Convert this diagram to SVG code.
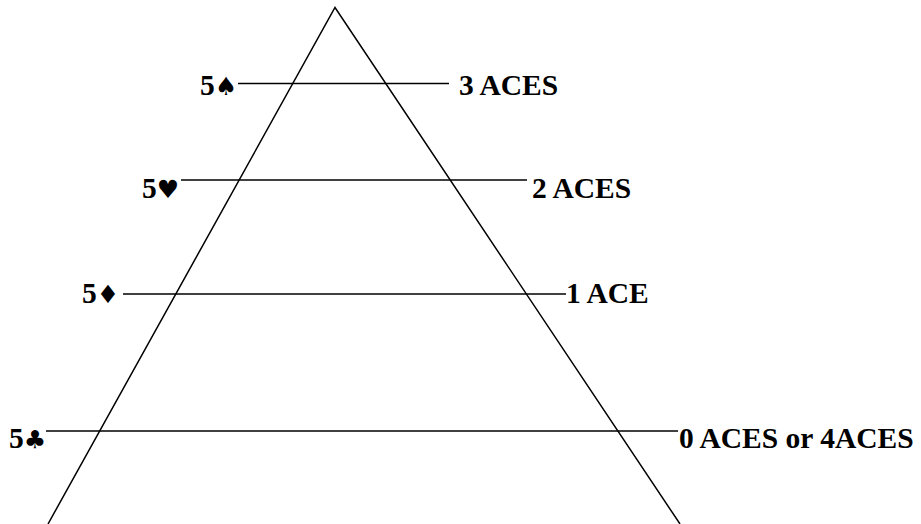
<svg xmlns="http://www.w3.org/2000/svg" width="921" height="524" viewBox="0 0 921 524">
<style>
.ln{stroke:#000;stroke-width:1.5;fill:none}
.t{font-family:"Liberation Serif","DejaVu Serif",serif;font-weight:bold;font-size:29.5px;fill:#000}
.s{font-family:"DejaVu Sans",sans-serif;font-size:25px}
</style>
<rect width="921" height="524" fill="#fff"/>
<g id="triangle">
<polyline class="ln" points="48,524 335,7.5 680,524"/>
</g>
<g id="connectors">
<line class="ln" x1="238" y1="83.5" x2="449" y2="83.5"/>
<line class="ln" x1="181" y1="180" x2="527" y2="180"/>
<line class="ln" x1="123" y1="294" x2="566" y2="294"/>
<line class="ln" x1="46" y1="431" x2="678" y2="431"/>
</g>
<g id="spade">
<text class="t" x="200" y="95">5<tspan class="s">♠</tspan></text>
<text class="t" x="459" y="95">3 ACES</text>
</g>
<g id="heart">
<text class="t" x="142" y="198">5<tspan class="s">♥</tspan></text>
<text class="t" x="532" y="198">2 ACES</text>
</g>
<g id="diamond">
<text class="t" x="82" y="303">5<tspan class="s">♦</tspan></text>
<text class="t" x="566" y="303">1 ACE</text>
</g>
<g id="club">
<text class="t" x="9" y="448">5<tspan class="s">♣</tspan></text>
<text class="t" x="679" y="448">0 ACES or 4ACES</text>
</g>
</svg>
